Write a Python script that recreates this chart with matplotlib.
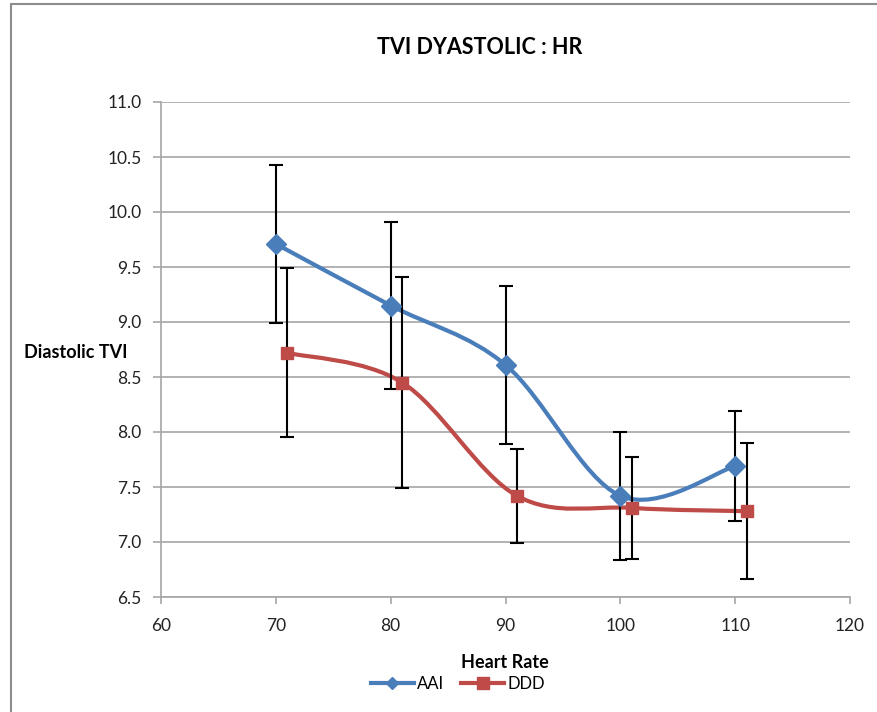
import matplotlib
matplotlib.use("Agg")
import matplotlib.pyplot as plt
from matplotlib.path import Path
from matplotlib.patches import PathPatch, Rectangle
from matplotlib.lines import Line2D
import numpy as np

title = "TVI DYASTOLIC : HR"
x_label = "Heart Rate"
y_label = "Diastolic TVI"

aai_x = [70, 80, 90, 100, 110]
aai_y = [9.71, 9.15, 8.61, 7.42, 7.69]
aai_err = [0.72, 0.76, 0.72, 0.58, 0.50]

ddd_x = [71, 81, 91, 101, 111]
ddd_y = [8.72, 8.45, 7.42, 7.31, 7.28]
ddd_err = [0.77, 0.96, 0.43, 0.46, 0.62]

x_ticks = [60, 70, 80, 90, 100, 110, 120]
y_ticks = [6.5, 7.0, 7.5, 8.0, 8.5, 9.0, 9.5, 10.0, 10.5, 11.0]

BLUE = "#4A7EBB"
RED = "#BE4B48"
GRID = "#A6A6A6"
FONT = "Lato"

fig = plt.figure(figsize=(8.77, 7.12), dpi=100)
fig.patches.append(Rectangle((11/877, -0.1), 1.2, (712-4)/712 + 0.1, transform=fig.transFigure,
                             fill=False, edgecolor="#8C8C8C", linewidth=1.5))
ax = fig.add_axes([161/877, (712-597)/712, (850-161)/877, (597-102)/712])

def smooth_path(xs, ys):
    pts = np.column_stack([xs, ys]).astype(float)
    n = len(pts)
    verts = [pts[0]]
    codes = [Path.MOVETO]
    for i in range(n - 1):
        p0 = pts[i - 1] if i > 0 else pts[i]
        p1 = pts[i]
        p2 = pts[i + 1]
        p3 = pts[i + 2] if i + 2 < n else pts[i + 1]
        c1 = p1 + (p2 - p0) / 6.0
        c2 = p2 - (p3 - p1) / 6.0
        verts += [c1, c2, p2]
        codes += [Path.CURVE4] * 3
    return Path(verts, codes)

for xs, ys, errs, col, mk, ms in [(aai_x, aai_y, aai_err, BLUE, "D", 10),
                                   (ddd_x, ddd_y, ddd_err, RED, "s", 9)]:
    ax.add_patch(PathPatch(smooth_path(xs, ys), facecolor="none", edgecolor=col,
                           linewidth=3, zorder=3, capstyle="round"))
    ax.errorbar(xs, ys, yerr=errs, fmt="none", ecolor="black", elinewidth=1.5,
                capsize=5, capthick=1.5, zorder=4)
    ax.plot(xs, ys, linestyle="none", marker=mk, markersize=ms, color=col, zorder=5)

ax.set_xlim(60, 120)
ax.set_ylim(6.5, 11.0)
ax.set_xticks(x_ticks)
ax.set_yticks(y_ticks)
ax.set_yticklabels([f"{v:.1f}" for v in y_ticks])
ax.grid(axis="y", color=GRID, linewidth=1.2)
ax.set_axisbelow(True)
for s in ["top", "right"]:
    ax.spines[s].set_visible(False)
for s in ["left", "bottom"]:
    ax.spines[s].set_color(GRID)
    ax.spines[s].set_linewidth(1.2)
ax.tick_params(axis="y", length=6, color=GRID, width=1.2, pad=8, labelsize=12.5, labelcolor="#222222")
ax.tick_params(axis="x", length=5, color=GRID, width=1.2, pad=10, labelsize=12.5, labelcolor="#222222")
for lab in ax.get_xticklabels() + ax.get_yticklabels():
    lab.set_family(FONT)

fig.text(480/877, 1 - 47/712, title, ha="center", va="center", fontsize=15.5,
         fontweight="bold", family=FONT)
fig.text(505/877, 1 - 663/712, x_label, ha="center", va="center", fontsize=13,
         fontweight="bold", family=FONT)
fig.text(24/877, 1 - 352/712, y_label, ha="left", va="center", fontsize=13,
         fontweight="bold", family=FONT)

handles = [Line2D([], [], color=BLUE, linewidth=3, marker="D", markersize=6),
           Line2D([], [], color=RED, linewidth=3, marker="s", markersize=8)]
fig.legend(handles, ["AAI", "DDD"], loc="center", bbox_to_anchor=(458/877, 1 - 684/712),
           ncol=2, frameon=False, prop={"family": FONT, "size": 12}, handlelength=2.6,
           handletextpad=0.2, columnspacing=1.0, borderpad=0)

fig.savefig("out.png", dpi=100)
